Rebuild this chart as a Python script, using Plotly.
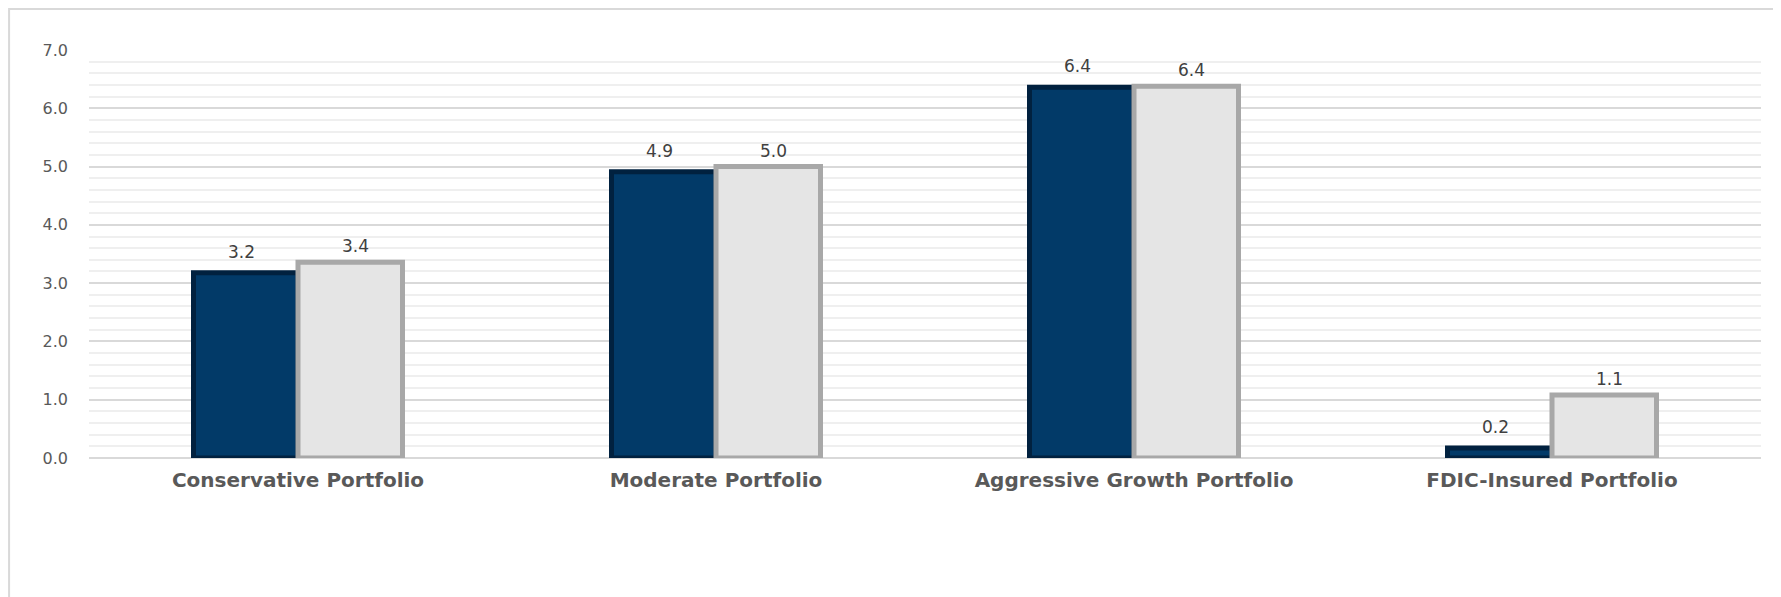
import plotly.graph_objects as go

categories = ["Conservative Portfolio", "Moderate Portfolio", "Aggressive Growth Portfolio", "FDIC-Insured Portfolio"]
series_a = [3.18, 4.91, 6.36, 0.17]
series_b = [3.36, 5.0, 6.38, 1.08]
y_ticks = [0, 1, 2, 3, 4, 5, 6, 7]

FONT = "DejaVu Sans"

fig = go.Figure()
fig.add_trace(go.Bar(
    x=categories, y=series_a, name="Series A",
    marker=dict(color="#023a68", line=dict(color="#01213f", width=5)),
    hoverinfo="skip",
))
fig.add_trace(go.Bar(
    x=categories, y=series_b, name="Series B",
    marker=dict(color="#e5e5e5", line=dict(color="#a8a8a8", width=5)),
    hoverinfo="skip",
))

annotations = []
for cat, v in zip(categories, series_a):
    annotations.append(dict(x=cat, y=v, xref="x", yref="y", text=f"{v:.1f}",
                            showarrow=False, xshift=-57, yshift=21, yanchor="middle",
                            font=dict(family=FONT, size=17, color="#404040")))
for cat, v in zip(categories, series_b):
    annotations.append(dict(x=cat, y=v, xref="x", yref="y", text=f"{v:.1f}",
                            showarrow=False, xshift=57, yshift=16, yanchor="middle",
                            font=dict(family=FONT, size=17, color="#404040")))

fig.update_layout(
    width=1773, height=589,
    margin=dict(l=81, r=20, t=42, b=139),
    paper_bgcolor="white", plot_bgcolor="white",
    barmode="group", bargap=0.5, bargroupgap=0,
    showlegend=False,
    annotations=annotations,
    shapes=[dict(type="rect", xref="paper", yref="paper",
                 x0=-0.0478, x1=1.2, y0=-0.6, y1=1.1005,
                 line=dict(color="#d9d9d9", width=2), fillcolor="rgba(0,0,0,0)",
                 layer="below")],
)
fig.update_xaxes(
    showgrid=False, showline=False, zeroline=False, ticks="",
    tickfont=dict(family=FONT, size=20, color="#595959", weight="bold"),
    ticklabelstandoff=8,
)
fig.update_yaxes(
    range=[0, 7], tickvals=y_ticks, tickformat=".1f",
    showgrid=True, gridcolor="#d9d9d9", gridwidth=1.5,
    zeroline=True, zerolinecolor="#d9d9d9", zerolinewidth=1.5,
    showline=False, ticks="",
    minor=dict(dtick=0.2, showgrid=True, gridcolor="#efefef", gridwidth=1.5),
    tickfont=dict(family=FONT, size=16, color="#595959"),
    ticklabelstandoff=20,
)

fig.write_html("out.html")
